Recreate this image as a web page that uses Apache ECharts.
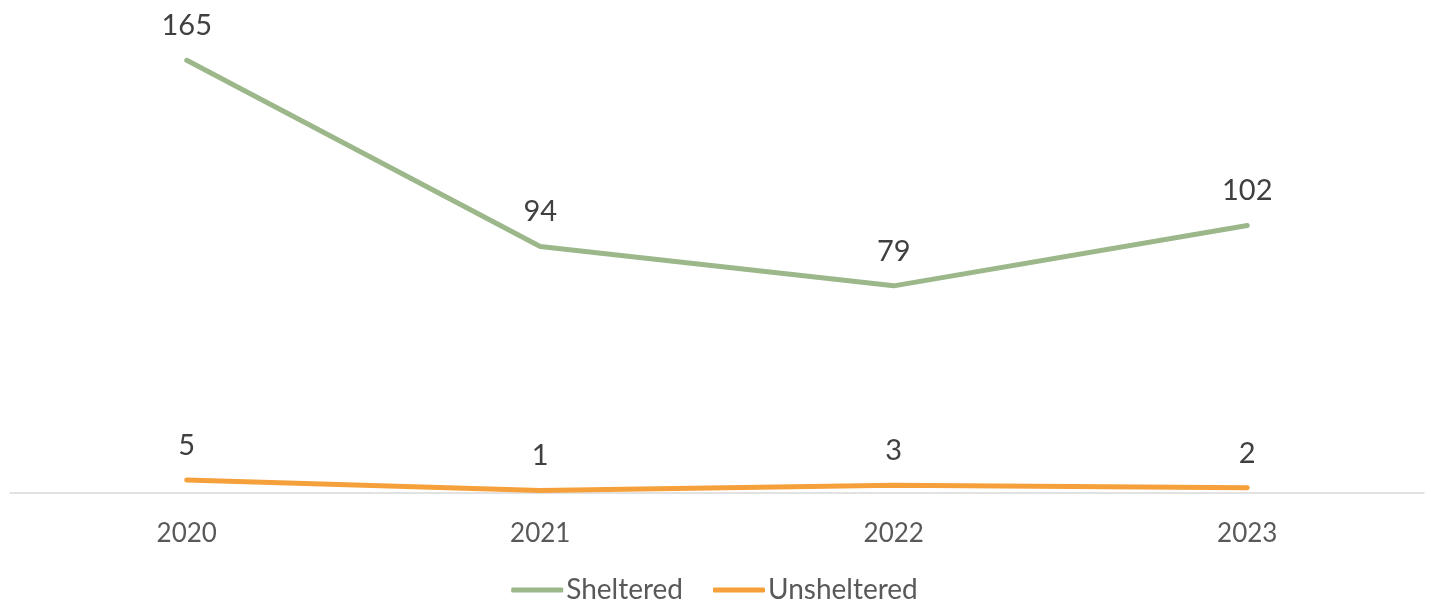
<!DOCTYPE html>
<html><head><meta charset="utf-8">
<script src="https://cdn.jsdelivr.net/npm/echarts@6/dist/echarts.min.js"></script>
<style>html,body{margin:0;padding:0;background:#fff}#c{width:1429px;height:603px}</style>
</head><body><div id="c"></div>
<script>
const categories = ['2020', '2021', '2022', '2023'];
const sheltered = [165, 94, 79, 102];
const unsheltered = [5, 1, 3, 2];
const FONT = 'Lato';
const chart = echarts.init(document.getElementById('c'), null, {renderer: 'canvas'});
const lbl = {show: true, position: 'top', distance: 20, fontSize: 29, color: '#404040', fontFamily: FONT};
chart.setOption({
  animation: false,
  grid: {left: 10, right: 5, top: 21, bottom: 110},
  legend: {
    bottom: -6, left: 'center', itemWidth: 52, itemHeight: 5, itemGap: 30,
    icon: 'roundRect',
    textStyle: {fontSize: 28, color: '#595959', fontFamily: FONT, padding: [0, 0, 0, -2]},
    data: ['Sheltered', 'Unsheltered']
  },
  xAxis: {
    type: 'category', data: categories, boundaryGap: true,
    axisLine: {lineStyle: {color: '#d9d9d9', width: 1.5}},
    axisTick: {show: false},
    axisLabel: {fontSize: 26, color: '#595959', fontFamily: FONT, margin: 28}
  },
  yAxis: {type: 'value', min: 0, max: 180, show: false, splitLine: {show: false}},
  series: [
    {name: 'Sheltered', type: 'line', data: sheltered, symbol: 'circle', symbolSize: 0.1, showSymbol: true, lineStyle: {color: '#9CB78A', width: 5, cap: 'round'}, itemStyle: {color: '#9CB78A'}, label: lbl},
    {name: 'Unsheltered', type: 'line', data: unsheltered, symbol: 'circle', symbolSize: 0.1, showSymbol: true, lineStyle: {color: '#F5A03B', width: 5, cap: 'round'}, itemStyle: {color: '#F5A03B'}, label: lbl}
  ]
});
</script></body></html>
